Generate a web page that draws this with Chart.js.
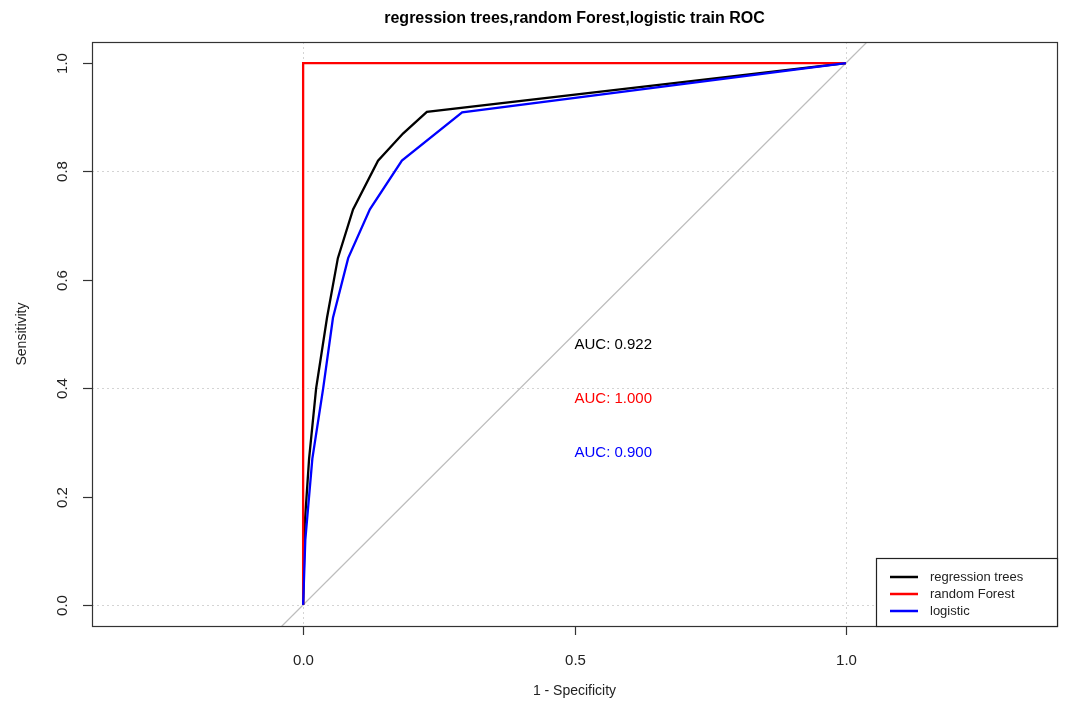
<!DOCTYPE html>
<html>
<head>
<meta charset="utf-8">
<script src="https://cdn.jsdelivr.net/npm/chart.js@4"></script>
<style>
  html, body { margin: 0; padding: 0; background: #fff; }
  #wrap { width: 1069px; height: 706px; }
</style>
</head>
<body>
<div id="wrap"><canvas id="roc" width="1069" height="706"></canvas></div>
<script>
// ---- data ----
const xTicks = [0, 0.5, 1];
const yTicks = [0, 0.2, 0.4, 0.6, 0.8, 1];
const xGrid = [0, 1];
const yGrid = [0, 0.4, 0.8];

const treesFpr  = [0, 0.003, 0.011, 0.024, 0.044, 0.064, 0.092, 0.138, 0.184, 0.228, 1];
const treesSens = [0, 0.15, 0.27, 0.40, 0.53, 0.64, 0.73, 0.82, 0.87, 0.91, 1];

const forestFpr  = [0, 0, 1];
const forestSens = [0, 1, 1];

const logitFpr  = [0, 0.004, 0.017, 0.037, 0.055, 0.083, 0.123, 0.182, 0.293, 1];
const logitSens = [0, 0.12, 0.27, 0.40, 0.53, 0.64, 0.73, 0.82, 0.909, 1];

const diagX = [-0.04, 1.04];
const diagY = [-0.04, 1.04];

const seriesNames  = ['regression trees', 'random Forest', 'logistic'];
const seriesColors = ['#000000', '#ff0000', '#0000ff'];
const aucText = ['AUC: 0.922', 'AUC: 1.000', 'AUC: 0.900'];
const aucX = 0.5;
const aucY = [0.48, 0.38, 0.28];

function pts(xs, ys) {
    return xs.map((x, i) => ({ x: x, y: ys[i] }));
}

const FONT = '"Liberation Sans", Arial, sans-serif';

/* -------- box, grid, axes, labels, legend -------- */
const decor = {
    id: 'decor',
    beforeDatasetsDraw(chart) {
        const { ctx, chartArea: a, scales: { x, y } } = chart;
        ctx.save();
        ctx.strokeStyle = '#d4d4d4';
        ctx.lineWidth = 1;
        ctx.setLineDash([2, 3]);
        xGrid.forEach(v => {
            const px = Math.round(x.getPixelForValue(v)) + 0.5;
            ctx.beginPath(); ctx.moveTo(px, a.top); ctx.lineTo(px, a.bottom); ctx.stroke();
        });
        yGrid.forEach(v => {
            const py = Math.round(y.getPixelForValue(v)) + 0.5;
            ctx.beginPath(); ctx.moveTo(a.left, py); ctx.lineTo(a.right, py); ctx.stroke();
        });
        ctx.restore();
    },
    afterDatasetsDraw(chart) {
        const { ctx, chartArea: a, scales: { x, y } } = chart;
        ctx.save();

        // AUC labels
        ctx.font = '15px ' + FONT;
        ctx.textAlign = 'left';
        ctx.textBaseline = 'middle';
        aucText.forEach((t, i) => {
            ctx.fillStyle = seriesColors[i];
            ctx.fillText(t, x.getPixelForValue(aucX), y.getPixelForValue(aucY[i]));
        });

        // plot box
        ctx.strokeStyle = '#333';
        ctx.lineWidth = 1.2;
        ctx.strokeRect(a.left + 0.5, a.top + 0.5, a.right - a.left, a.bottom - a.top);

        // x axis ticks
        ctx.fillStyle = '#222';
        ctx.font = '15px ' + FONT;
        ctx.textAlign = 'center';
        ctx.textBaseline = 'middle';
        xTicks.forEach(v => {
            const px = Math.round(x.getPixelForValue(v)) + 0.5;
            ctx.beginPath(); ctx.moveTo(px, a.bottom); ctx.lineTo(px, a.bottom + 9); ctx.stroke();
            ctx.fillText(v.toFixed(1), px, a.bottom + 35);
        });

        // y axis ticks, labels rotated like R
        yTicks.forEach(v => {
            const py = Math.round(y.getPixelForValue(v)) + 0.5;
            ctx.beginPath(); ctx.moveTo(a.left, py); ctx.lineTo(a.left - 9, py); ctx.stroke();
            ctx.save();
            ctx.translate(a.left - 29, py);
            ctx.rotate(-Math.PI / 2);
            ctx.fillText(v.toFixed(1), 0, 0);
            ctx.restore();
        });

        // axis titles
        ctx.font = '14px ' + FONT;
        ctx.fillText('1 - Specificity', (a.left + a.right) / 2, a.bottom + 65);
        ctx.save();
        ctx.translate(22, (a.top + a.bottom) / 2);
        ctx.rotate(-Math.PI / 2);
        ctx.fillText('Sensitivity', 0, 0);
        ctx.restore();

        // main title
        ctx.fillStyle = '#000';
        ctx.font = 'bold 16px ' + FONT;
        ctx.fillText('regression trees,random Forest,logistic train ROC', (a.left + a.right) / 2, 19);

        // legend, bottom right inside the box
        const lw = 181, lh = 68;
        const lx = a.right - lw, ly = a.bottom - lh;
        ctx.fillStyle = '#fff';
        ctx.fillRect(lx, ly, lw, lh);
        ctx.strokeStyle = '#222';
        ctx.lineWidth = 1.2;
        ctx.strokeRect(lx + 0.5, ly + 0.5, lw, lh);
        ctx.font = '13px ' + FONT;
        ctx.textAlign = 'left';
        seriesNames.forEach((n, i) => {
            const ry = ly + 19 + i * 17;
            ctx.strokeStyle = seriesColors[i];
            ctx.lineWidth = 2.5;
            ctx.beginPath(); ctx.moveTo(lx + 14, ry); ctx.lineTo(lx + 42, ry); ctx.stroke();
            ctx.fillStyle = '#222';
            ctx.fillText(n, lx + 54, ry);
        });
        ctx.restore();
    }
};

new Chart(document.getElementById('roc').getContext('2d'), {
    type: 'scatter',
    data: {
        datasets: [
            { label: 'diag', data: pts(diagX, diagY), borderColor: '#bdbdbd', borderWidth: 1.3, order: 3 },
            { label: seriesNames[0], data: pts(treesFpr, treesSens), borderColor: seriesColors[0], borderWidth: 2.3, order: 2 },
            { label: seriesNames[1], data: pts(forestFpr, forestSens), borderColor: seriesColors[1], borderWidth: 2.3, order: 1 },
            { label: seriesNames[2], data: pts(logitFpr, logitSens), borderColor: seriesColors[2], borderWidth: 2.3, order: 0 }
        ].map(d => ({ ...d, showLine: true, pointRadius: 0, fill: false, tension: 0 }))
    },
    options: {
        responsive: false,
        animation: false,
        layout: { padding: { left: 92, top: 42, right: 12, bottom: 80 } },
        plugins: { legend: { display: false }, tooltip: { enabled: false } },
        scales: {
            x: { type: 'linear', min: -0.389, max: 1.389, display: false },
            y: { type: 'linear', min: -0.039, max: 1.039, display: false }
        }
    },
    plugins: [decor]
});
</script>
</body>
</html>
